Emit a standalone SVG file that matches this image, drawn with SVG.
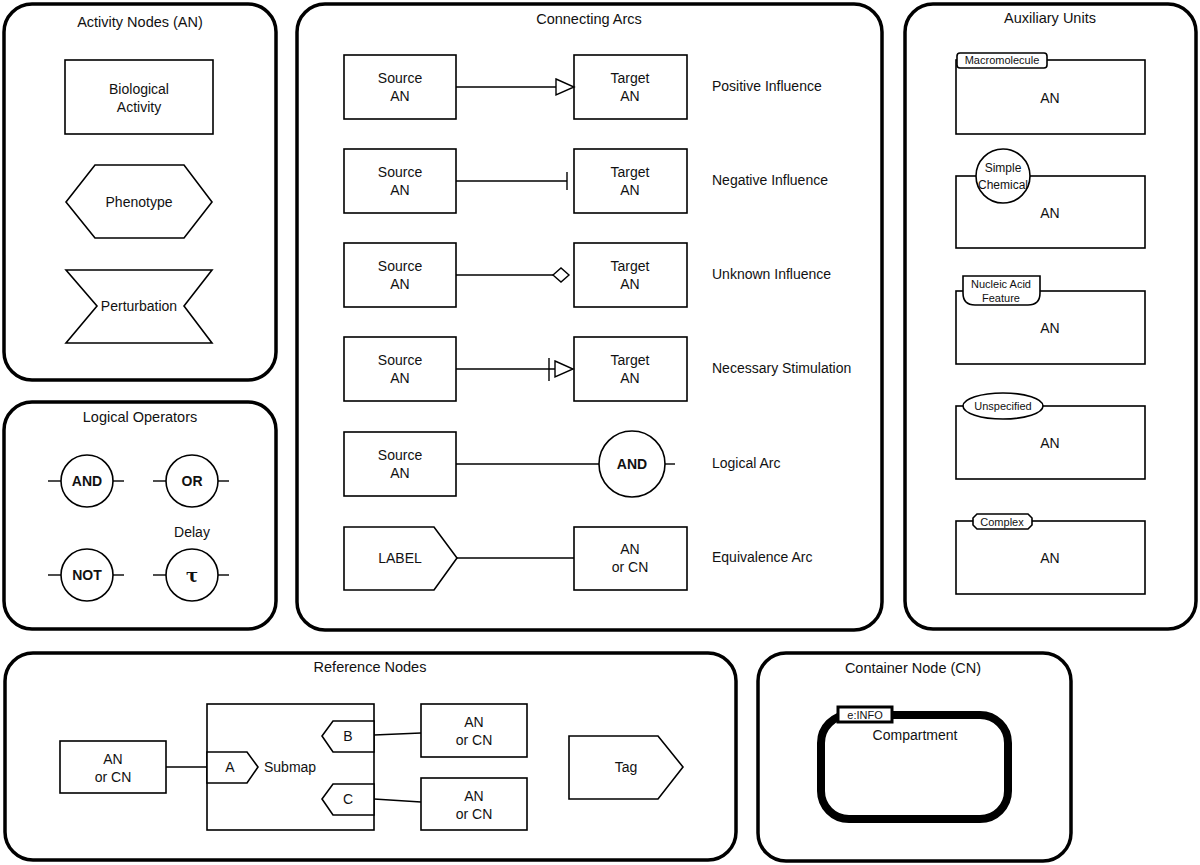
<svg xmlns="http://www.w3.org/2000/svg" width="1200" height="865" viewBox="0 0 1200 865">
<style>
text{font-family:"Liberation Sans",Arial,sans-serif;font-size:14px;fill:#111;text-anchor:middle}
.panel{fill:#fff;stroke:#000;stroke-width:3.5}
.box{fill:#fff;stroke:#000;stroke-width:1.6}
.ln{stroke:#000;stroke-width:1.4;fill:none}
.head{fill:#fff;stroke:#000;stroke-width:1.4}
.title{font-size:14.5px}
.lbl{text-anchor:start}
.b{font-weight:bold}
.sm{font-size:11px}
</style>
<rect width="1200" height="865" fill="#fff"/>
<g id="panel-activity">
<rect class="panel" x="4" y="4" width="272" height="376" rx="28"/>
<text class="title" x="140" y="27">Activity Nodes (AN)</text>
</g>
<g id="biological-activity">
<rect class="box" x="65" y="60" width="148" height="74"/>
<text x="139" y="94">Biological</text><text x="139" y="112">Activity</text>
</g>
<g id="phenotype">
<polygon class="box" points="66,202 95,165 184,165 212,202 184,238 95,238"/>
<text x="139" y="207">Phenotype</text>
</g>
<g id="perturbation">
<polygon class="box" points="66,270 212,270 184,306 212,343 66,343 97,306"/>
<text x="139" y="311">Perturbation</text>
</g>
<g id="panel-logical">
<rect class="panel" x="4" y="402" width="272" height="227" rx="28"/>
<text class="title" x="140" y="422">Logical Operators</text>
</g>
<g id="op-and">
<line class="ln" x1="48" y1="481" x2="61" y2="481"/><line class="ln" x1="113" y1="481" x2="124" y2="481"/>
<circle class="box" cx="87" cy="481" r="26"/><text class="b" x="87" y="486">AND</text>
</g>
<g id="op-or">
<line class="ln" x1="153" y1="481" x2="166" y2="481"/><line class="ln" x1="218" y1="481" x2="229" y2="481"/>
<circle class="box" cx="192" cy="481" r="26"/><text class="b" x="192" y="486">OR</text>
</g>
<g id="op-not">
<line class="ln" x1="48" y1="575" x2="61" y2="575"/><line class="ln" x1="113" y1="575" x2="124" y2="575"/>
<circle class="box" cx="87" cy="575" r="26"/><text class="b" x="87" y="580">NOT</text>
</g>
<g id="op-delay">
<text x="192" y="537">Delay</text>
<line class="ln" x1="153" y1="575" x2="166" y2="575"/><line class="ln" x1="218" y1="575" x2="229" y2="575"/>
<circle class="box" cx="192" cy="575" r="26"/><text class="b" x="192" y="582" style="font-size:18px;font-family:'DejaVu Serif',serif">τ</text>
</g>
<g id="panel-arcs">
<rect class="panel" x="297" y="4" width="585" height="626" rx="28"/>
<text class="title" x="589" y="24">Connecting Arcs</text>
</g>
<g id="row-positive">
<rect class="box" x="344" y="55" width="112" height="64"/><text x="400" y="83">Source</text><text x="400" y="101">AN</text>
<rect class="box" x="574" y="55" width="113" height="64"/><text x="630" y="83">Target</text><text x="630" y="101">AN</text>
<text class="lbl" x="712" y="91">Positive Influence</text>
</g>
<g id="row-negative">
<rect class="box" x="344" y="149" width="112" height="64"/><text x="400" y="177">Source</text><text x="400" y="195">AN</text>
<rect class="box" x="574" y="149" width="113" height="64"/><text x="630" y="177">Target</text><text x="630" y="195">AN</text>
<text class="lbl" x="712" y="185">Negative Influence</text>
</g>
<g id="row-unknown">
<rect class="box" x="344" y="243" width="112" height="64"/><text x="400" y="271">Source</text><text x="400" y="289">AN</text>
<rect class="box" x="574" y="243" width="113" height="64"/><text x="630" y="271">Target</text><text x="630" y="289">AN</text>
<text class="lbl" x="712" y="279">Unknown Influence</text>
</g>
<g id="row-necessary">
<rect class="box" x="344" y="337" width="112" height="64"/><text x="400" y="365">Source</text><text x="400" y="383">AN</text>
<rect class="box" x="574" y="337" width="113" height="64"/><text x="630" y="365">Target</text><text x="630" y="383">AN</text>
<text class="lbl" x="712" y="373">Necessary Stimulation</text>
</g>
<g id="row-logical">
<rect class="box" x="344" y="432" width="112" height="64"/><text x="400" y="460">Source</text><text x="400" y="478">AN</text>
<circle class="box" cx="632" cy="464" r="33"/><text class="b" x="632" y="469">AND</text>
<text class="lbl" x="712" y="468">Logical Arc</text>
</g>
<g id="row-equivalence">
<path class="box" d="M344,527 H434 L457,558 L434,590 H344 Z"/><text x="400" y="563">LABEL</text>
<rect class="box" x="574" y="527" width="113" height="63"/><text x="630" y="554">AN</text><text x="630" y="572">or CN</text>
<text class="lbl" x="712" y="562">Equivalence Arc</text>
</g>
<g id="panel-aux">
<rect class="panel" x="905" y="4" width="291" height="625" rx="28"/>
<text class="title" x="1050" y="23">Auxiliary Units</text>
</g>
<g id="aux-macromolecule">
<rect class="box" x="956" y="60" width="189" height="74"/>
<rect class="box" x="957" y="53" width="90" height="15" rx="3"/>
<text class="sm" x="1002" y="64">Macromolecule</text>
<text x="1050" y="103">AN</text>
</g>
<g id="aux-simple-chemical">
<rect class="box" x="956" y="176" width="189" height="72"/>
<circle cx="1003" cy="176" r="27" fill="#fff"/>
<text x="1003" y="172" style="font-size:12px">Simple</text><text x="1003" y="189" style="font-size:12px">Chemical</text>
<circle cx="1003" cy="176" r="27" fill="none" stroke="#000" stroke-width="1.6"/>
<text x="1050" y="218">AN</text>
</g>
<g id="aux-nucleic-acid">
<rect class="box" x="956" y="291" width="189" height="73"/>
<path class="box" d="M963,276 H1040 V293 Q1040,305 1028,305 H975 Q963,305 963,293 Z"/>
<text class="sm" x="1001" y="288">Nucleic Acid</text><text class="sm" x="1001" y="302">Feature</text>
<text x="1050" y="333">AN</text>
</g>
<g id="aux-unspecified">
<rect class="box" x="956" y="406" width="189" height="73"/>
<ellipse class="box" cx="1003" cy="406" rx="40" ry="13"/>
<text class="sm" x="1003" y="410">Unspecified</text>
<text x="1050" y="448">AN</text>
</g>
<g id="aux-complex">
<rect class="box" x="956" y="521" width="189" height="73"/>
<path class="box" d="M977,514 H1028 L1032,518 V525 L1028,529 H977 L973,525 V518 Z"/>
<text class="sm" x="1002" y="526">Complex</text>
<text x="1050" y="563">AN</text>
</g>
<g id="panel-reference">
<rect class="panel" x="5" y="653" width="731" height="207" rx="28"/>
<text class="title" x="370" y="672">Reference Nodes</text>
</g>
<g id="ref-an-left">
<rect class="box" x="60" y="741" width="106" height="52"/><text x="113" y="764">AN</text><text x="113" y="782">or CN</text>
</g>
<g id="submap">
<rect class="box" x="207" y="704" width="167" height="126"/>
<path class="box" d="M207,752 H247 L258,767 L247,783 H207 Z"/><text x="230" y="772">A</text>
<text class="lbl" x="264" y="772">Submap</text>
<path class="box" d="M374,721 H333 L322,736 L333,752 H374 Z"/><text x="348" y="741">B</text>
<path class="box" d="M374,784 H333 L322,799 L333,815 H374 Z"/><text x="348" y="804">C</text>
</g>
<g id="ref-an-b">
<rect class="box" x="421" y="704" width="106" height="53"/><text x="474" y="727">AN</text><text x="474" y="745">or CN</text>
</g>
<g id="ref-an-c">
<rect class="box" x="421" y="778" width="106" height="52"/><text x="474" y="801">AN</text><text x="474" y="819">or CN</text>
</g>
<g id="tag">
<path class="box" d="M569,736 H658 L683,767 L658,799 H569 Z"/><text x="626" y="772">Tag</text>
</g>
<g id="panel-container">
<rect class="panel" x="758" y="653" width="313" height="208" rx="28"/>
<text class="title" x="913" y="673">Container Node (CN)</text>
</g>
<g id="compartment">
<rect x="821" y="715" width="187" height="104" rx="28" fill="#fff" stroke="#000" stroke-width="8"/>
<rect x="838" y="707" width="54" height="15" fill="#fff" stroke="#000" stroke-width="3"/>
<text class="sm" x="865" y="719">e:INFO</text>
<text x="915" y="740">Compartment</text>
</g>
<g id="connectors">
<line class="ln" x1="456" y1="87" x2="556" y2="87"/>
<polygon class="head" points="556,79 574,87 556,95"/>
<line class="ln" x1="456" y1="181" x2="567" y2="181"/>
<line class="ln" x1="567" y1="172" x2="567" y2="190"/>
<line class="ln" x1="456" y1="275" x2="553" y2="275"/>
<polygon class="head" points="553,275 561,268 569,275 561,282"/>
<line class="ln" x1="456" y1="369" x2="555" y2="369"/>
<line class="ln" x1="549" y1="358" x2="549" y2="381"/>
<polygon class="head" points="555,361 573,369 555,377"/>
<line class="ln" x1="456" y1="464" x2="599" y2="464"/>
<line class="ln" x1="665" y1="464" x2="675" y2="464"/>
<line class="ln" x1="457" y1="558" x2="574" y2="558"/>
<line class="ln" x1="166" y1="767" x2="207" y2="767"/>
<line class="ln" x1="374" y1="735" x2="421" y2="733"/>
<line class="ln" x1="374" y1="799" x2="421" y2="802"/>
</g>
</svg>
